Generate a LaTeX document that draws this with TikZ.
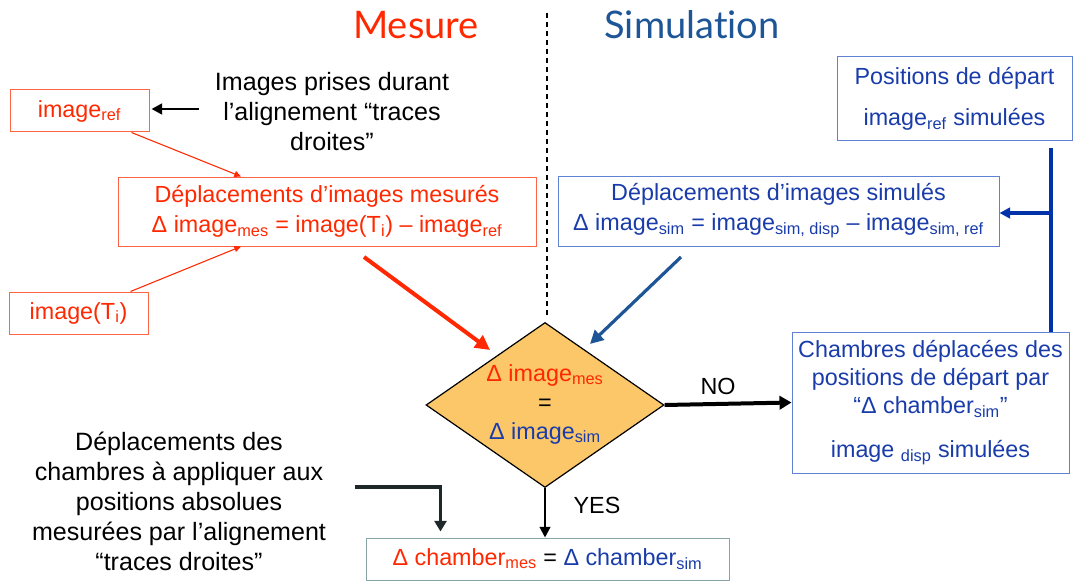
\documentclass[tikz,border=0pt]{standalone}
\usepackage{fontspec}
\setmainfont{Liberation Sans}
\newfontfamily\titlefont[Ligatures={NoCommon,NoRequired,NoContextual}]{Lato}
\usetikzlibrary{arrows.meta,shapes.geometric,calc}
\definecolor{tred}{RGB}{255,40,0}
\definecolor{boxred}{RGB}{255,100,70}
\definecolor{tblue}{RGB}{25,60,170}
\definecolor{boxblue}{RGB}{95,130,210}
\definecolor{lblue}{RGB}{0,50,170}
\definecolor{sblue}{RGB}{30,85,150}
\definecolor{dfill}{RGB}{251,199,104}
\definecolor{boxgray}{RGB}{135,165,165}
\definecolor{darkarr}{RGB}{30,40,40}
\newcommand\sbs[1]{\textsubscript{#1}}
\tikzset{
  ctext/.style={font=\fontsize{17.5}{22.5}\selectfont, align=center, inner sep=0pt},
  btext/.style={font=\fontsize{18.8}{22.5}\selectfont, align=center, inner sep=0pt, text=black},
  redbox/.style={ctext, draw=boxred, line width=0.75pt, text=tred},
  bluebox/.style={ctext, draw=boxblue, line width=0.75pt, text=tblue},
  thinred/.style={draw=tred, line width=0.8pt, -{Triangle[length=5pt,width=4.5pt]}},
}
\begin{document}
\begin{tikzpicture}[x=0.75pt,y=-0.75pt]
\useasboundingbox (0,0) rectangle (1073,581);

% titles
\node[anchor=base, text=tred, font=\titlefont\fontsize{28.5}{32}\selectfont] (tmes) at (416,39) {Mesure};
\node[anchor=base, text=sblue, font=\titlefont\fontsize{28.5}{32}\selectfont] (tsim) at (692,39) {Simulation};

% dotted separator
\coordinate (dtop) at (547,13);
\coordinate (dbot) at (547,318);
\draw[line width=2pt, dash pattern=on 3.75pt off 3pt] (dtop) -- (dbot);

% left measurement side
\node[redbox, minimum width=104.25pt, minimum height=31.5pt] (ref) at (79.5,111) {image\sbs{ref}};
\node[redbox, minimum width=104.25pt, minimum height=31.5pt] (Ti) at (78.5,313) {image(T\sbs{i})};
\node[redbox, minimum width=313.5pt, minimum height=51.75pt] (mes) at (327,211.5)
  {Déplacements d’images mesurés\\ Δ image\sbs{mes} = image(T\sbs{i}) – image\sbs{ref}};
\node[btext] (note) at (332,112) {Images prises durant\\ l’alignement “traces\\ droites”};

\coordinate (nstart) at ($(note.west |- ref.east)+(-16,-2)$);
\draw[line width=2.2pt, -{Triangle[length=8pt,width=8pt]}] (nstart) -- ($(ref.east)+(2,-2)$);
\draw[thinred] ($(ref.south east)+(-18,0)$) -- ($(mes.north)+(-86,0)$);
\draw[thinred] ($(Ti.north east)+(-18,0)$) -- ($(mes.south)+(-86,0)$);

% simulation side
\node[bluebox, minimum width=176.25pt, minimum height=63pt, font=\fontsize{17.5}{30.75}\selectfont] (pos) at (954.5,99)
  {Positions de départ\\ image\sbs{ref} simulées};
\node[bluebox, minimum width=330.75pt, minimum height=52.5pt] (sim) at (778.5,211)
  {Déplacements d’images simulés\\ Δ image\sbs{sim} = image\sbs{sim, disp} – image\sbs{sim, ref}};
\node[bluebox, minimum width=207.75pt, minimum height=105.75pt, font=\fontsize{17.5}{21}\selectfont] (cham) at (930.5,402.5)
  {Chambres déplacées des\\ positions de départ par\\ “Δ chamber\sbs{sim}”\\[12pt] image \sbs{disp} simulées};

% diamond
\node[diamond, draw=black, line width=0.9pt, fill=dfill, minimum width=178.5pt, minimum height=123.75pt, inner sep=0pt] (dia) at (545,405) {};
\node[ctext, font=\fontsize{17.5}{21.75}\selectfont] (diat) at (545,404)
  {\textcolor{tred}{Δ image\sbs{mes}}\\ =\\ \textcolor{tblue}{Δ image\sbs{sim}}};

% bottom result
\node[ctext, draw=boxgray, line width=0.75pt, minimum width=272.25pt, minimum height=31.5pt] (bot) at (547.5,559)
  {\textcolor{tred}{Δ chamber\sbs{mes}} = \textcolor{tblue}{Δ chamber\sbs{sim}}};
\node[btext] (left) at (179,501)
  {Déplacements des\\ chambres à appliquer aux\\ positions absolues\\ mesurées par l’alignement\\ “traces droites”};

% connectors to diamond
\coordinate (r1) at (364,257);
\coordinate (r2) at (490,350);
\draw[draw=tred, line width=3pt, -{Triangle[length=11pt,width=11pt]}] (r1) -- (r2);
\coordinate (b1) at (681,257);
\coordinate (b2) at (590,344);
\draw[draw=sblue, line width=2.4pt, -{Triangle[length=10pt,width=10pt]}] (b1) -- (b2);

% NO / YES
\draw[line width=3pt, -{Triangle[length=9pt,width=10pt]}] (dia.east) -- (cham.west);
\node[btext, font=\fontsize{17.5}{21}\selectfont, anchor=base] (no) at (718,394) {NO};
\draw[line width=1.6pt, -{Triangle[length=8pt,width=8pt]}] (dia.south) -- (dia.south |- bot.north);
\node[btext, font=\fontsize{17.5}{21}\selectfont, anchor=base] (yes) at (597,513) {YES};

% elbow arrow
\coordinate (e1) at (355,487);
\draw[draw=darkarr, line width=2.8pt, -{Triangle[length=8pt,width=9pt]}] (e1) -| ($(bot.north west)+(75,-6)$);

% blue feedback line
\coordinate (v1) at (1051,148);
\coordinate (vb) at (1051,213);
\draw[draw=lblue, line width=2.4pt] (v1) -- (cham.north -| v1);
\draw[draw=lblue, line width=2.4pt, -{Triangle[length=8pt,width=8pt]}] (vb) -- (sim.east |- vb);
\end{tikzpicture}
\end{document}
